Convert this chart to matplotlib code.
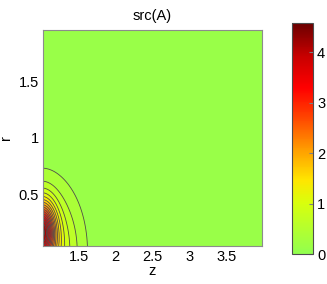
import numpy as np
import matplotlib
matplotlib.use("Agg")
import matplotlib.pyplot as plt
from matplotlib.colors import LinearSegmentedColormap

plt.rcParams['font.family'] = ['Liberation Sans', 'DejaVu Sans']

# Source shape: broad component + narrow core (parameters)
broad_amp, broad_z0, broad_r0, broad_sz, broad_sr = 1.4, 1.0, 0.0, 0.47, 0.55
core_amp, core_z0, core_r0, core_sz, core_sr = 3.1, 1.0, 0.18, 0.17, 0.24
z_range = [1.0125, 3.9875]
r_range = [0.05, 1.95]
levels = np.arange(0, 4.76, 0.25)
xticks = [1.5, 2, 2.5, 3, 3.5]
yticks = [0.5, 1, 1.5]
cbticks = [0, 1, 2, 3, 4]

z = np.linspace(z_range[0], z_range[1], 300)
r = np.linspace(r_range[0], r_range[1], 200)
Z, R = np.meshgrid(z, r)
A = (broad_amp * np.exp(-((Z - broad_z0) / broad_sz) ** 2 - ((R - broad_r0) / broad_sr) ** 2)
     + core_amp * np.exp(-((Z - core_z0) / core_sz) ** 2 - ((R - core_r0) / core_sr) ** 2))

cmap = LinearSegmentedColormap.from_list('src', [
    (0.0, (0.57, 1.0, 0.31)),
    (0.22, (0.85, 1.0, 0.05)),
    (0.32, (1.0, 0.9, 0.0)),
    (0.45, (1.0, 0.62, 0.0)),
    (0.6, (1.0, 0.25, 0.0)),
    (0.72, (1.0, 0.0, 0.0)),
    (0.86, (0.78, 0.0, 0.0)),
    (1.0, (0.42, 0.0, 0.0)),
])

fig = plt.figure(figsize=(3.27, 2.84), dpi=100)
ax = fig.add_axes([0.1315, 0.1338, 0.67, 0.7606])
cax = fig.add_axes([0.893, 0.1056, 0.064, 0.813])

vmax = 4.58
ax.contourf(Z, R, A, levels=levels, cmap=cmap, vmin=0, vmax=vmax)
ax.contour(Z, R, A, levels=levels[1:], colors=[(0.3, 0.3, 0.3)], linewidths=0.6)
ax.set_xlim(z_range)
ax.set_ylim(r_range)
ax.set_xticks(xticks)
ax.set_xticklabels(['1.5', '2', '2.5', '3', '3.5'])
ax.set_yticks(yticks)
ax.set_yticklabels(['0.5', '1', '1.5'])
ax.tick_params(direction='in', length=0, labelsize=10.5, pad=3)
for s in ax.spines.values():
    s.set_color('0.55')
ax.set_xlabel('z', fontsize=10.5, labelpad=0)
ax.set_ylabel('r', fontsize=10.5, labelpad=4)
ax.set_title('src(A)', fontsize=10.5, pad=7)

sm = matplotlib.cm.ScalarMappable(cmap=cmap, norm=matplotlib.colors.Normalize(0, vmax))
cb = fig.colorbar(sm, cax=cax)
cb.set_ticks(cbticks)
cax.tick_params(direction='in', length=3, color='0.5', labelsize=10.5, pad=3)
cb.outline.set_edgecolor('0.3')

fig.savefig('out.png', dpi=100)
